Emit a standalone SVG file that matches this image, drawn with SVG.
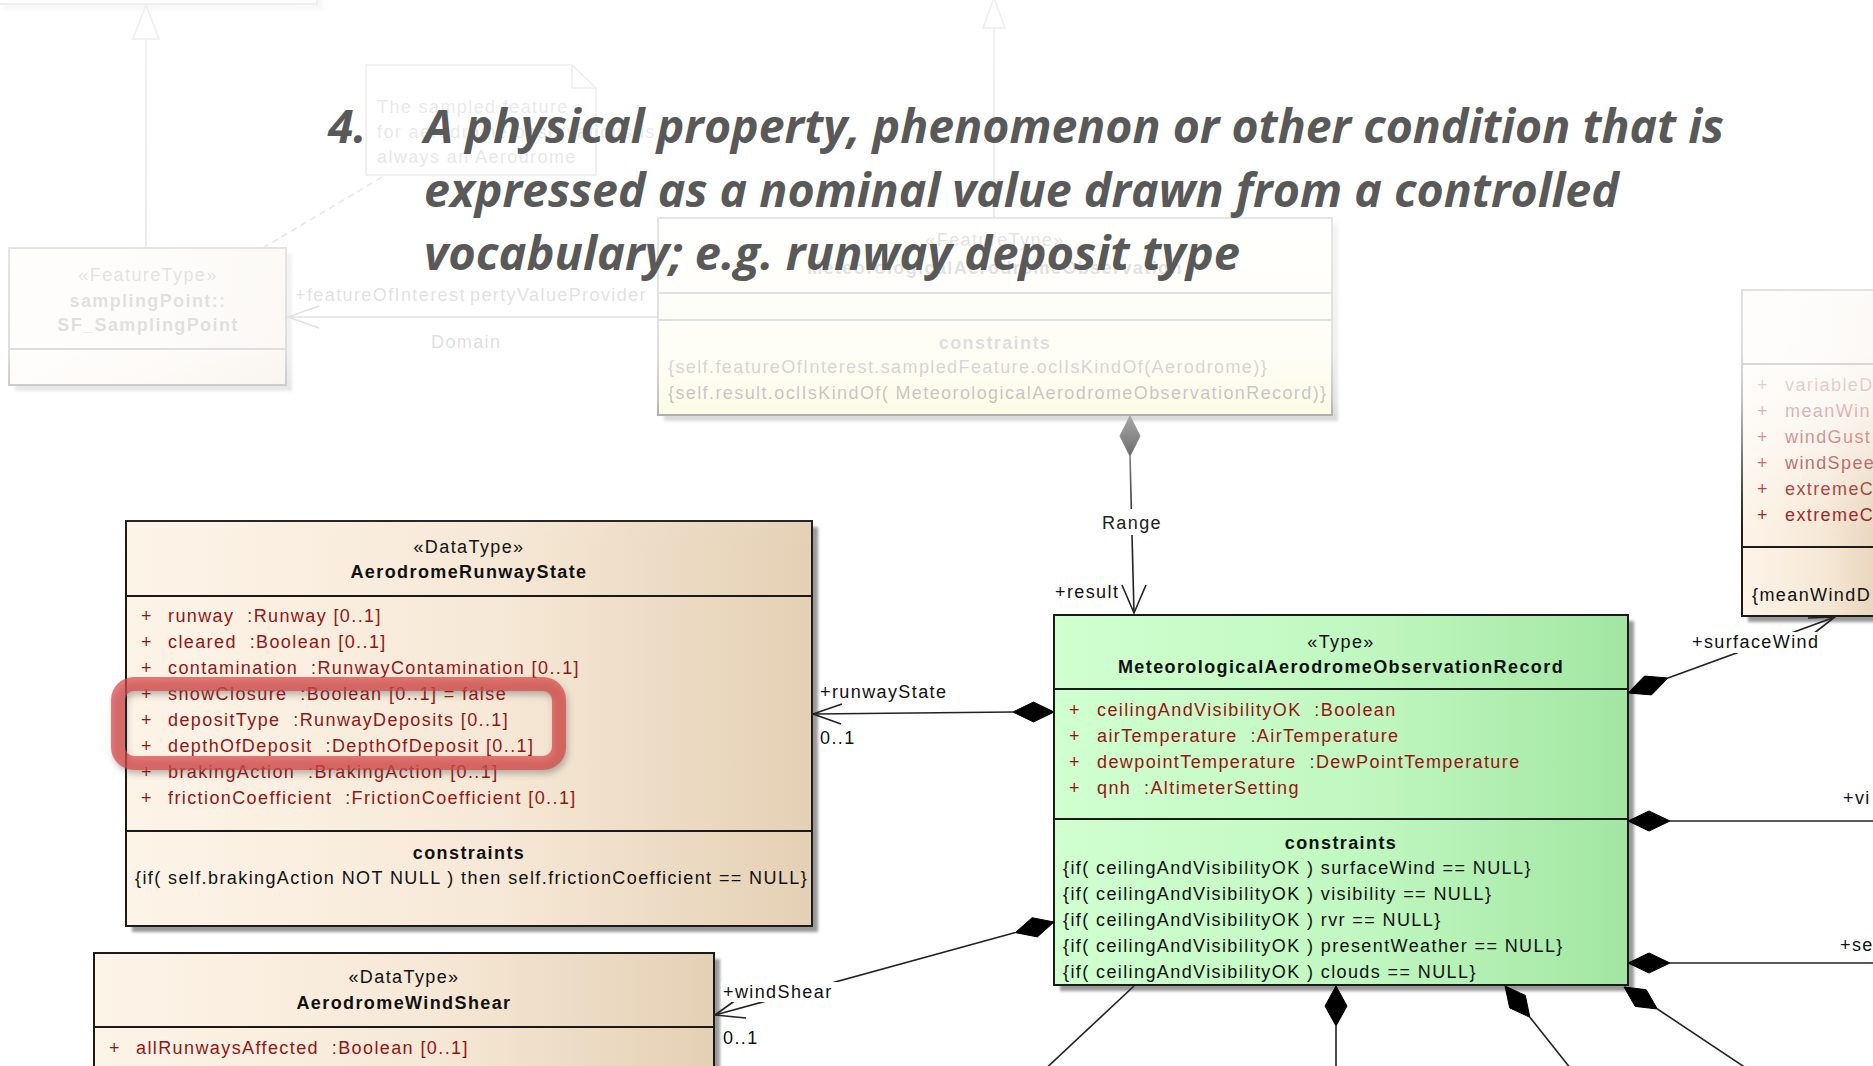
<svg xmlns="http://www.w3.org/2000/svg" width="1873" height="1066" viewBox="0 0 1873 1066">
<defs>
<style>
.t{font-family:"Liberation Sans",Arial,sans-serif;font-size:18px;letter-spacing:1.4px;fill:#111}
.b{font-weight:bold}
.m{text-anchor:middle}
.a{fill:#951515}
.bx{stroke:#1a1a1a;stroke-width:2}
.dv{stroke:#1a1a1a;stroke-width:2}
.sh{fill:#9a9a9a;filter:url(#blur)}
.ln{stroke:#222;stroke-width:1.6;fill:none}
.dm{fill:#000;stroke:#000;stroke-width:1}
.lb{fill:#fff}
.title{font-family:"Open Sans","Noto Sans",sans-serif;font-weight:bold;font-style:italic;font-size:46px;fill:#595959}
</style>
<filter id="blur" x="-5%" y="-5%" width="110%" height="110%"><feGaussianBlur stdDeviation="1.5"/></filter>
<filter id="blur2" x="-10%" y="-20%" width="120%" height="140%"><feGaussianBlur stdDeviation="3"/></filter>
<linearGradient id="gTan" x1="0" y1="0" x2="1" y2="0"><stop offset="0" stop-color="#fdf4e8"/><stop offset="0.55" stop-color="#f6e8d6"/><stop offset="1" stop-color="#e4d0b4"/></linearGradient>
<linearGradient id="gGreen" x1="0" y1="0" x2="1" y2="0"><stop offset="0" stop-color="#d0ffd0"/><stop offset="0.55" stop-color="#c0f7c0"/><stop offset="1" stop-color="#a2e6a2"/></linearGradient>
<linearGradient id="gYel" x1="0" y1="0" x2="0" y2="1"><stop offset="0" stop-color="#fffff2"/><stop offset="1" stop-color="#f6f2a8"/></linearGradient>
<linearGradient id="fade" gradientUnits="userSpaceOnUse" x1="0" y1="0" x2="0" y2="560"><stop offset="0" stop-color="#fff" stop-opacity="0.93"/><stop offset="0.625" stop-color="#fff" stop-opacity="0.86"/><stop offset="0.714" stop-color="#fff" stop-opacity="0.74"/><stop offset="0.786" stop-color="#fff" stop-opacity="0.52"/><stop offset="0.84" stop-color="#fff" stop-opacity="0.33"/><stop offset="0.893" stop-color="#fff" stop-opacity="0.14"/><stop offset="0.946" stop-color="#fff" stop-opacity="0.02"/><stop offset="1" stop-color="#fff" stop-opacity="0"/></linearGradient>
</defs>
<rect width="1873" height="1066" fill="#fff"/>

<g id="node-top-left">
<rect class="sh" x="5" y="-14" width="318" height="24"/>
<rect class="bx" x="-2" y="-20" width="319" height="24" fill="url(#gTan)"/>
</g>

<g id="node-sf-samplingpoint">
<rect class="sh" x="15" y="254" width="277" height="137"/>
<rect class="bx" x="9" y="248" width="277" height="137" fill="url(#gTan)"/>
<line class="dv" x1="9" y1="349" x2="286" y2="349"/>
<text class="t m" x="148" y="281">«FeatureType»</text>
<text class="t m b" x="148" y="307">samplingPoint::</text>
<text class="t m b" x="148" y="331">SF_SamplingPoint</text>
</g>

<g id="node-note">
<polygon points="366,65 572,65 596,88 596,175 366,175" fill="#fbfbfb" stroke="#333" stroke-width="1.5"/>
<polyline points="572,65 572,88 596,88" fill="none" stroke="#333" stroke-width="1.5"/>
<text class="t" x="377" y="113">The sampled feature</text>
<text class="t" x="377" y="138">for aerodrome observations is</text>
<text class="t" x="377" y="163">always an Aerodrome</text>
</g>

<g id="node-observation">
<rect class="sh" x="664" y="224" width="674" height="197"/>
<rect class="bx" x="658" y="218" width="674" height="197" fill="url(#gYel)"/>
<line class="dv" x1="658" y1="293" x2="1332" y2="293"/>
<line class="dv" x1="658" y1="320" x2="1332" y2="320"/>
<text class="t m" x="995" y="246">«FeatureType»</text>
<text class="t m b" x="995" y="274">MeteorologicalAerodromeObservation</text>
<text class="t m b" x="995" y="349">constraints</text>
<text class="t" x="668" y="373">{self.featureOfInterest.sampledFeature.oclIsKindOf(Aerodrome)}</text>
<text class="t" x="668" y="399">{self.result.oclIsKindOf( MeteorologicalAerodromeObservationRecord)}</text>
</g>

<g id="node-surfacewind">
<rect class="sh" x="1748" y="296" width="140" height="326"/>
<rect class="bx" x="1742" y="290" width="150" height="326" fill="url(#gTan)"/>
<line class="dv" x1="1742" y1="364" x2="1873" y2="364"/>
<line class="dv" x1="1742" y1="547" x2="1873" y2="547"/>
<text class="t a" x="1757" y="391">+</text><text class="t a" x="1785" y="391">variableD</text>
<text class="t a" x="1757" y="417">+</text><text class="t a" x="1785" y="417">meanWin</text>
<text class="t a" x="1757" y="443">+</text><text class="t a" x="1785" y="443">windGust</text>
<text class="t a" x="1757" y="469">+</text><text class="t a" x="1785" y="469">windSpee</text>
<text class="t a" x="1757" y="495">+</text><text class="t a" x="1785" y="495">extremeC</text>
<text class="t a" x="1757" y="521">+</text><text class="t a" x="1785" y="521">extremeC</text>
<text class="t" x="1752" y="601">{meanWindD</text>
</g>

<g id="node-runwaystate">
<rect class="sh" x="132" y="527" width="686" height="405"/>
<rect class="bx" x="126" y="521" width="686" height="405" fill="url(#gTan)"/>
<line class="dv" x1="126" y1="596" x2="812" y2="596"/>
<line class="dv" x1="126" y1="831" x2="812" y2="831"/>
<text class="t m" x="469" y="553">«DataType»</text>
<text class="t m b" x="469" y="578">AerodromeRunwayState</text>
<text class="t a" x="141" y="622">+</text><text class="t a" x="168" y="622">runway&#160; :Runway [0..1]</text>
<text class="t a" x="141" y="648">+</text><text class="t a" x="168" y="648">cleared&#160; :Boolean [0..1]</text>
<text class="t a" x="141" y="674">+</text><text class="t a" x="168" y="674">contamination&#160; :RunwayContamination [0..1]</text>
<text class="t a" x="141" y="700">+</text><text class="t a" x="168" y="700">snowClosure&#160; :Boolean [0..1] = false</text>
<text class="t a" x="141" y="726">+</text><text class="t a" x="168" y="726">depositType&#160; :RunwayDeposits [0..1]</text>
<text class="t a" x="141" y="752">+</text><text class="t a" x="168" y="752">depthOfDeposit&#160; :DepthOfDeposit [0..1]</text>
<text class="t a" x="141" y="778">+</text><text class="t a" x="168" y="778">brakingAction&#160; :BrakingAction [0..1]</text>
<text class="t a" x="141" y="804">+</text><text class="t a" x="168" y="804">frictionCoefficient&#160; :FrictionCoefficient [0..1]</text>
<text class="t m b" x="469" y="859">constraints</text>
<text class="t" x="135" y="884">{if( self.brakingAction NOT NULL ) then self.frictionCoefficient == NULL}</text>
</g>

<g id="node-windshear">
<rect class="sh" x="100" y="959" width="620" height="130"/>
<rect class="bx" x="94" y="953" width="620" height="130" fill="url(#gTan)"/>
<line class="dv" x1="94" y1="1027" x2="714" y2="1027"/>
<text class="t m" x="404" y="983">«DataType»</text>
<text class="t m b" x="404" y="1009">AerodromeWindShear</text>
<text class="t a" x="109" y="1054">+</text><text class="t a" x="136" y="1054">allRunwaysAffected&#160; :Boolean [0..1]</text>
</g>

<g id="node-record">
<rect class="sh" x="1060" y="621" width="574" height="370"/>
<rect class="bx" x="1054" y="615" width="574" height="370" fill="url(#gGreen)"/>
<line class="dv" x1="1054" y1="689" x2="1628" y2="689"/>
<line class="dv" x1="1054" y1="819" x2="1628" y2="819"/>
<text class="t m" x="1341" y="648">«Type»</text>
<text class="t m b" x="1341" y="673">MeteorologicalAerodromeObservationRecord</text>
<text class="t a" x="1069" y="716">+</text><text class="t a" x="1097" y="716">ceilingAndVisibilityOK&#160; :Boolean</text>
<text class="t a" x="1069" y="742">+</text><text class="t a" x="1097" y="742">airTemperature&#160; :AirTemperature</text>
<text class="t a" x="1069" y="768">+</text><text class="t a" x="1097" y="768">dewpointTemperature&#160; :DewPointTemperature</text>
<text class="t a" x="1069" y="794">+</text><text class="t a" x="1097" y="794">qnh&#160; :AltimeterSetting</text>
<text class="t m b" x="1341" y="849">constraints</text>
<text class="t" x="1063" y="874">{if( ceilingAndVisibilityOK ) surfaceWind == NULL}</text>
<text class="t" x="1063" y="900">{if( ceilingAndVisibilityOK ) visibility == NULL}</text>
<text class="t" x="1063" y="926">{if( ceilingAndVisibilityOK ) rvr == NULL}</text>
<text class="t" x="1063" y="952">{if( ceilingAndVisibilityOK ) presentWeather == NULL}</text>
<text class="t" x="1063" y="978">{if( ceilingAndVisibilityOK ) clouds == NULL}</text>
</g>

<g id="connectors">
<line class="ln" x1="146" y1="39" x2="146" y2="248"/>
<polygon points="146,5 133,39 159,39" fill="#fff" stroke="#222" stroke-width="1.6"/>
<line class="ln" x1="994" y1="28" x2="994" y2="218"/>
<polygon points="994,-2 983,28 1005,28" fill="#fff" stroke="#222" stroke-width="1.6"/>
<line class="ln" x1="263" y1="248" x2="384" y2="176" stroke-dasharray="6,5"/>
<line class="ln" x1="288" y1="317" x2="658" y2="317"/>
<polyline class="ln" points="319,306 288,317 319,328"/>
<text class="t" x="295" y="301">+featureOfInterest</text>
<text class="t" x="470" y="301">pertyValueProvider</text>
<text class="t" x="431" y="348">Domain</text>
<line class="ln" x1="1130" y1="456" x2="1134" y2="613"/>
<polygon class="dm" points="1130,416 1140,436 1130,456 1120,436"/>
<polyline class="ln" points="1122,585 1134,613 1146,585"/>
<rect class="lb" x="1099" y="509" width="67" height="26"/>
<text class="t m" x="1132" y="529">Range</text>
<text class="t" x="1055" y="598">+result</text>
<line class="ln" x1="1013" y1="712" x2="813" y2="714"/>
<polygon class="dm" points="1054,712 1033.5,702 1013,712 1033.5,722"/>
<polyline class="ln" points="842,704 813,714 841,724"/>
<text class="t" x="820" y="698">+runwayState</text>
<text class="t" x="820" y="744">0..1</text>
<line class="ln" x1="1015.4" y1="932.6" x2="715" y2="1015"/>
<polygon class="dm" points="1054,922 1032.1,917.7 1015.4,932.6 1037.4,936.9"/>
<polyline class="ln" points="740,997 715,1015 746,1018"/>
<rect class="lb" x="721" y="982" width="120" height="20"/>
<text class="t" x="723" y="998">+windShear</text>
<text class="t" x="723" y="1044">0..1</text>
<line class="ln" x1="1668" y1="678" x2="1835" y2="617"/>
<polygon class="dm" points="1628,693 1644.5,676.1 1668,678 1651.5,694.9"/>
<polyline class="ln" points="1808,618 1835,617 1813,634"/>
<rect class="lb" x="1690" y="632" width="104" height="21"/>
<rect class="lb" x="1690" y="632" width="128" height="16"/>
<text class="t" x="1692" y="648">+surfaceWind</text>
<line class="ln" x1="1670" y1="821" x2="1873" y2="821"/>
<polygon class="dm" points="1628,821 1649,811 1670,821 1649,831"/>
<text class="t" x="1843" y="804">+vi</text>
<line class="ln" x1="1670" y1="963" x2="1873" y2="963"/>
<polygon class="dm" points="1628,963 1649,953 1670,963 1649,973"/>
<text class="t" x="1840" y="951">+se</text>
<line class="ln" x1="1657.4" y1="1009" x2="1752" y2="1072"/>
<polygon class="dm" points="1624,987 1646.2,989.7 1657.4,1009 1635.2,1006.4"/>
<line class="ln" x1="1529.9" y1="1017.3" x2="1575" y2="1074"/>
<polygon class="dm" points="1505,986 1525.3,995.4 1529.9,1017.3 1509.7,1007.9"/>
<line class="ln" x1="1336" y1="1026" x2="1336" y2="1070"/>
<polygon class="dm" points="1336,986 1347,1006 1336,1026 1325,1006"/>
<line class="ln" x1="1134" y1="986" x2="1040" y2="1074"/>
</g>

<g id="highlight">
<rect x="120" y="688" width="441" height="79" rx="16" fill="none" stroke="#444" stroke-opacity="0.35" stroke-width="14" filter="url(#blur2)"/>
<rect x="118" y="684" width="441" height="79" rx="16" fill="none" stroke="#dd4444" stroke-opacity="0.7" stroke-width="14"/>
</g>

<rect id="fade-overlay" x="0" y="0" width="1873" height="560" fill="url(#fade)"/>

<g id="title">
<text class="title" x="328" y="143">4.</text>
<text class="title" x="424" y="143" textLength="1300" lengthAdjust="spacingAndGlyphs">A physical property, phenomenon or other condition that is</text>
<text class="title" x="424" y="207" textLength="1195" lengthAdjust="spacingAndGlyphs">expressed as a nominal value drawn from a controlled</text>
<text class="title" x="424" y="270" textLength="816" lengthAdjust="spacingAndGlyphs">vocabulary; e.g. runway deposit type</text>
</g>
</svg>
